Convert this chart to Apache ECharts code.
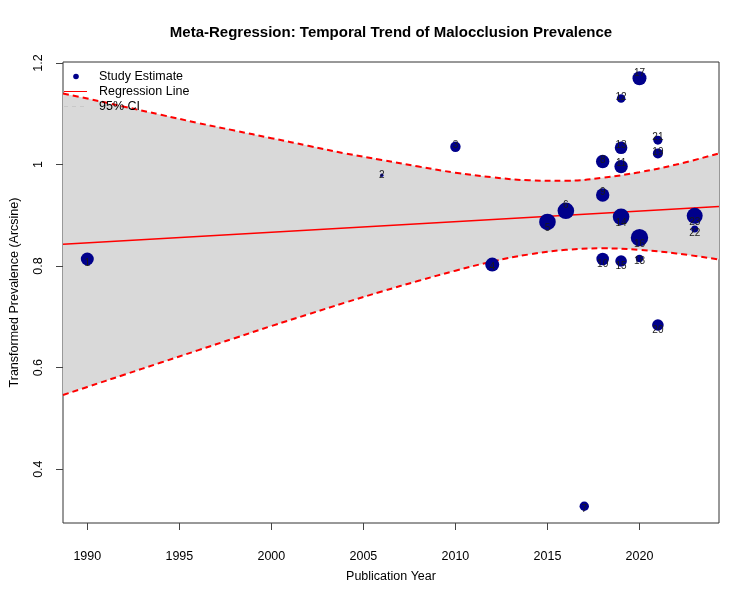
<!DOCTYPE html>
<html>
<head>
<meta charset="utf-8">
<title>Meta-Regression: Temporal Trend of Malocclusion Prevalence</title>
<script src="https://cdn.jsdelivr.net/npm/echarts@6/dist/echarts.min.js"></script>
<style>
html, body { margin: 0; padding: 0; background: #fff; }
#chart { width: 750px; height: 600px; }
</style>
</head>
<body>
<div id="chart"></div>
<script>
// study estimates (id, year, transformed prevalence, weight)
const studyIds = [1, 2, 3, 4, 5, 6, 7, 8, 9, 10, 11, 12, 13, 14, 15, 16, 17, 18, 19, 20, 21, 22, 23]
const studyYears = [1990, 2006, 2010, 2012, 2015, 2016, 2017, 2018, 2018, 2018, 2019, 2019, 2019, 2019, 2019, 2020, 2020, 2020, 2021, 2021, 2021, 2023, 2023]
const studyValues = [0.814, 0.979, 1.035, 0.803, 0.887, 0.909, 0.327, 1.006, 0.940, 0.814, 0.996, 1.130, 1.033, 0.897, 0.810, 0.856, 1.170, 0.815, 1.022, 0.684, 1.048, 0.873, 0.899]
const studyWeights = [6.5, 1.7, 5.2, 7, 8.3, 8.3, 4.7, 6.7, 6.7, 6.3, 6.7, 4.3, 6.3, 8.3, 5.8, 8.7, 7, 3.7, 5, 5.8, 4.5, 3.5, 8]

// fitted regression line
const fitYears = [1988.68, 2024.32]
const fitValues = [0.843, 0.9175]

// 95% confidence band
const ciYears = [1988.68, 1990, 1992, 1994, 1996, 1998, 2000, 2002, 2004, 2006, 2008, 2010, 2012, 2014, 2016, 2018, 2020, 2022, 2024.32]
const ciUpper = [1.140, 1.130, 1.114, 1.098, 1.082, 1.067, 1.052, 1.037, 1.022, 1.009, 0.996, 0.984, 0.975, 0.969, 0.968, 0.974, 0.985, 1.000, 1.022]
const ciLower = [0.546, 0.562, 0.586, 0.610, 0.634, 0.658, 0.682, 0.705, 0.728, 0.750, 0.771, 0.791, 0.809, 0.823, 0.832, 0.835, 0.832, 0.825, 0.813]

// tick labels
const xTicks = [1990, 1995, 2000, 2005, 2010, 2015, 2020]
const yTicks = [0.4, 0.6, 0.8, 1.0, 1.2]

// vertical nudge of each study label (px), as placed in the original plot
const labelShift = [4, 0, -2, 3, 6, -6, 3, -1, -3, 5, -3, -1, -3, 6, 5, 7, -5, 3, -1, 5, -3, 4, 6]

const FONT = 'Liberation Sans, Arial, sans-serif'
const RED = '#FF0000'
const NAVY = '#00008B'

const pairs = (xs, ys) => xs.map((x, i) => [x, ys[i]])

// legend drawn like R's legend(bty = "n") in the top left corner
const legendText = (text, y) => ({
  type: 'text',
  silent: true,
  style: { x: 99, y: y, text: text, fontFamily: FONT, fontSize: 12.5, fill: '#000', verticalAlign: 'middle' }
})

const chart = echarts.init(document.getElementById('chart'))
chart.setOption({
  animation: false,
  backgroundColor: '#fff',
  title: {
    text: 'Meta-Regression: Temporal Trend of Malocclusion Prevalence',
    left: 386,
    textAlign: 'center',
    top: 20,
    textStyle: { fontFamily: FONT, fontSize: 15, fontWeight: 'bold', color: '#000' }
  },
  graphic: [
    { type: 'circle', silent: true, z: 10, shape: { cx: 76, cy: 76.5, r: 2.8 }, style: { fill: NAVY } },
    { type: 'line', silent: true, z: 10, shape: { x1: 64, y1: 91.5, x2: 87, y2: 91.5 }, style: { stroke: RED, lineWidth: 1 } },
    { type: 'line', silent: true, z: 10, shape: { x1: 64, y1: 106.5, x2: 87, y2: 106.5 }, style: { stroke: '#C8C8C8', lineWidth: 1, lineDash: [4, 4] } },
    Object.assign(legendText('Study Estimate', 76.5), { z: 10 }),
    Object.assign(legendText('Regression Line', 91.5), { z: 10 }),
    Object.assign(legendText('95% CI', 106.5), { z: 10 })
  ],
  grid: {
    left: 61,
    right: 31,
    top: 62,
    bottom: 77,
    show: true,
    borderColor: '#333',
    borderWidth: 1
  },
  xAxis: {
    type: 'value',
    min: 1988.68,
    max: 2024.32,
    name: 'Publication Year',
    nameLocation: 'middle',
    nameGap: 47,
    nameTextStyle: { fontFamily: FONT, fontSize: 12.5, color: '#000' },
    splitLine: { show: false },
    axisLine: { show: false },
    axisTick: { show: true, length: 7, customValues: xTicks, lineStyle: { color: '#444' } },
    axisLabel: {
      customValues: xTicks,
      margin: 27,
      fontFamily: FONT,
      fontSize: 12.5,
      color: '#000',
      formatter: v => String(v)
    }
  },
  yAxis: {
    type: 'value',
    min: 0.294,
    max: 1.202,
    name: 'Transformed Prevalence (Arcsine)',
    nameLocation: 'middle',
    nameGap: 42,
    nameTextStyle: { fontFamily: FONT, fontSize: 12.5, color: '#000' },
    splitLine: { show: false },
    axisLine: { show: false },
    axisTick: { show: true, length: 7, customValues: yTicks, lineStyle: { color: '#444' } },
    axisLabel: {
      customValues: yTicks,
      rotate: 90,
      margin: 18,
      fontFamily: FONT,
      fontSize: 12.5,
      color: '#000',
      formatter: v => String(Number(v.toFixed(1)))
    }
  },
  series: [
    {
      name: 'ciBand',
      type: 'custom',
      silent: true,
      data: ciYears.map((x, i) => [x, ciLower[i], ciUpper[i]]),
      encode: { x: 0, y: [1, 2] },
      renderItem: (params, api) => {
        if (params.dataIndex !== 0) return null
        const top = ciYears.map((x, i) => api.coord([x, ciUpper[i]]))
        const bottom = ciYears.map((x, i) => api.coord([x, ciLower[i]])).reverse()
        return {
          type: 'polygon',
          shape: { points: top.concat(bottom) },
          style: { fill: '#D9D9D9' }
        }
      },
      z: 1
    },
    {
      name: '95% CI',
      type: 'line',
      smooth: 0.4,
      symbol: 'none',
      silent: true,
      lineStyle: { color: RED, width: 2, type: [6, 4] },
      data: pairs(ciYears, ciUpper),
      z: 2
    },
    {
      name: '95% CI',
      type: 'line',
      smooth: 0.4,
      symbol: 'none',
      silent: true,
      lineStyle: { color: RED, width: 2, type: [6, 4] },
      data: pairs(ciYears, ciLower),
      z: 2
    },
    {
      name: 'Regression Line',
      type: 'line',
      symbol: 'none',
      silent: true,
      lineStyle: { color: RED, width: 1.5 },
      data: pairs(fitYears, fitValues),
      z: 3
    },
    {
      name: 'Study Estimate',
      type: 'scatter',
      silent: true,
      itemStyle: { color: NAVY, opacity: 1 },
      symbolSize: (val, params) => studyWeights[params.dataIndex] * 2,
      label: {
        show: true,
        position: 'inside',
        fontFamily: FONT,
        fontSize: 10,
        color: '#1a1a1a',
        formatter: p => String(studyIds[p.dataIndex])
      },
      data: studyYears.map((y, i) => ({
        value: [y, studyValues[i]],
        label: { offset: [0, labelShift[i]] }
      })),
      z: 4
    }
  ]
})
</script>
</body>
</html>
